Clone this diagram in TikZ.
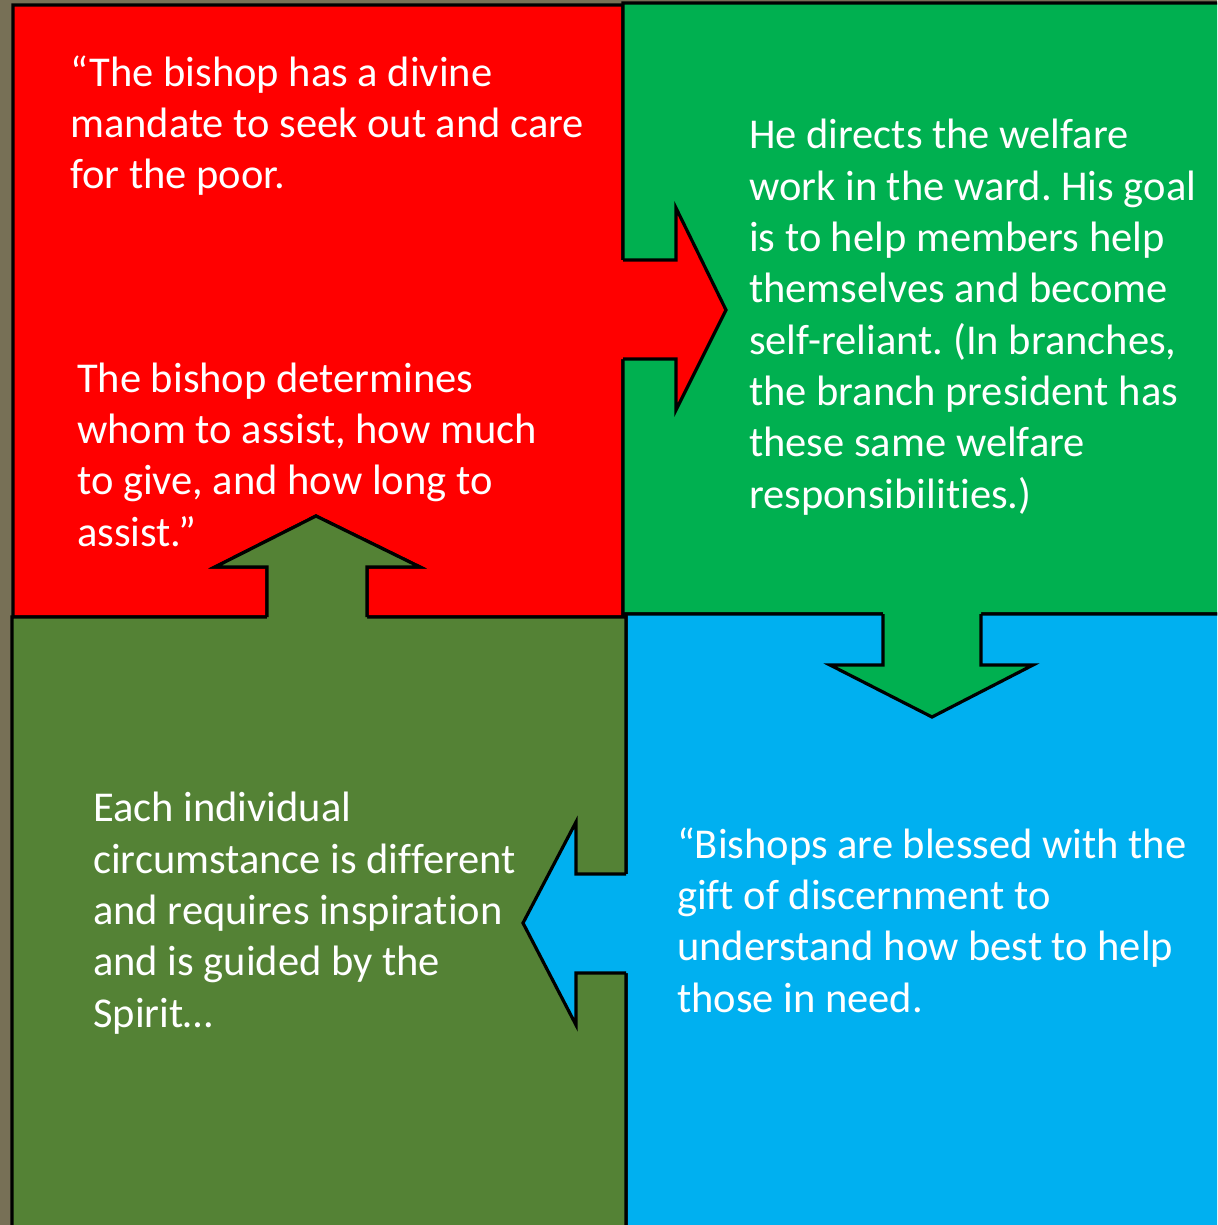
\documentclass[tikz,border=0pt]{standalone}
\usepackage{fontspec}
\setmainfont{Carlito}[Ligatures=CommonOff]
\definecolor{bgc}{RGB}{119,112,86}
\definecolor{redq}{RGB}{255,0,0}
\definecolor{greenq}{RGB}{0,176,80}
\definecolor{blueq}{RGB}{0,176,240}
\definecolor{oliveq}{RGB}{84,130,53}
\tikzset{
  quad/.style={draw=black,line width=3.2pt,line join=miter},
  txt/.style={anchor=base west,align=left,inner sep=0pt,text=white,
    font=\fontsize{42.5}{51.3}\selectfont\frenchspacing},
}
\begin{document}
\begin{tikzpicture}[x=1pt,y=-1pt]
\useasboundingbox (0,0) rectangle (1217,1225);
\clip (0,0) rectangle (1217,1225);
\fill[bgc] (0,0) rectangle (1217,1225);
% quadrant bodies
\filldraw[quad,fill=redq] (13,5) -- (623,5) -- (623,260) -- (676,260) -- (676,208) -- (726,310) -- (676,410) -- (676,359) -- (623,359) -- (623,617) -- (13,617) -- cycle;
\filldraw[quad,fill=greenq] (623,3) -- (1240,3) -- (1240,614) -- (981,614) -- (981,665) -- (1033,665) -- (932,717) -- (830,665) -- (883,665) -- (883,614) -- (623,614) -- cycle;
\filldraw[quad,fill=blueq] (626,614) -- (1240,614) -- (1240,1240) -- (626,1240) -- (626,973) -- (576,973) -- (576,1025) -- (523,923) -- (576,822) -- (576,874) -- (626,874) -- cycle;
\filldraw[quad,fill=oliveq] (12,617) -- (267,617) -- (267,567) -- (215,567) -- (316,516) -- (420,567) -- (367,567) -- (367,617) -- (626,617) -- (626,1240) -- (12,1240) -- cycle;
% arrow protrusions on top
\fill[redq] (617,260) -- (676,260) -- (676,208) -- (726,310) -- (676,410) -- (676,359) -- (617,359) -- cycle;
\draw[quad] (623,260) -- (676,260) -- (676,208) -- (726,310) -- (676,410) -- (676,359) -- (623,359);
\fill[greenq] (883,608) -- (883,665) -- (830,665) -- (932,717) -- (1033,665) -- (981,665) -- (981,608) -- cycle;
\draw[quad] (883,614) -- (883,665) -- (830,665) -- (932,717) -- (1033,665) -- (981,665) -- (981,614);
\fill[blueq] (632,874) -- (576,874) -- (576,822) -- (523,923) -- (576,1025) -- (576,973) -- (632,973) -- cycle;
\draw[quad] (626,874) -- (576,874) -- (576,822) -- (523,923) -- (576,1025) -- (576,973) -- (626,973);
\fill[oliveq] (267,623) -- (267,567) -- (215,567) -- (316,516) -- (420,567) -- (367,567) -- (367,623) -- cycle;
\draw[quad] (267,617) -- (267,567) -- (215,567) -- (316,516) -- (420,567) -- (367,567) -- (367,617);
% texts (base anchor = baseline of last line)
\node[txt] (t1) at (70,189) {“The bishop has a divine\\mandate to seek out and care\\for the poor.};
\node[txt] (t2) at (77,546) {The bishop determines\\whom to assist, how much\\to give, and how long to\\assist.”};
\node[txt] (t3) at (749,508) {He directs the welfare\\work in the ward. His goal\\is to help members help\\themselves and become\\self-reliant. (In branches,\\the branch president has\\these same welfare\\responsibilities.)};
\node[txt] (t4) at (93,1027) {Each individual\\circumstance is different\\and requires inspiration\\and is guided by the\\Spirit…};
\node[txt] (t5) at (677,1012) {“Bishops are blessed with the\\gift of discernment to\\understand how best to help\\those in need.};
\end{tikzpicture}
\end{document}
